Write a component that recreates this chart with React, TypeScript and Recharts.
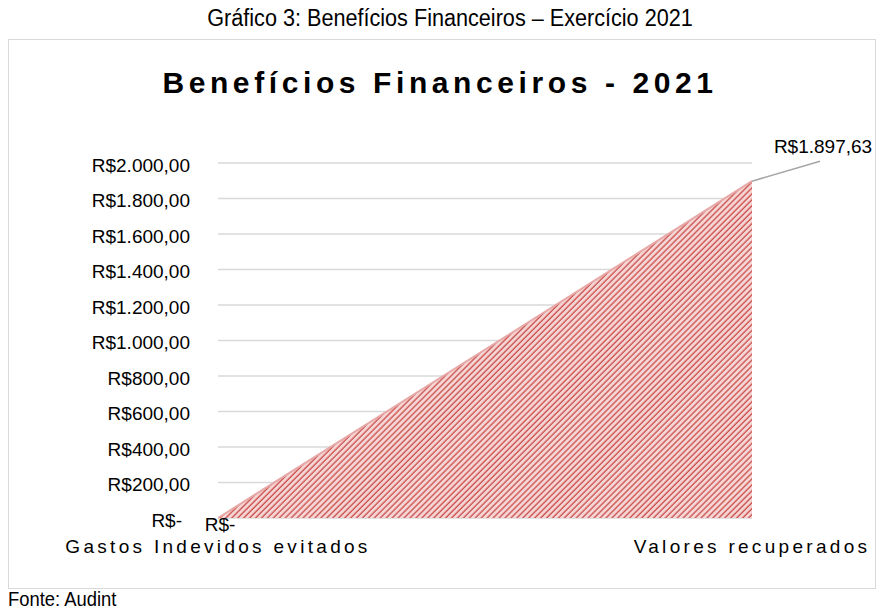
import React from "react";
import { AreaChart, Area, XAxis, YAxis, CartesianGrid } from "recharts";

const CATEGORIES = ["Gastos Indevidos evitados", "Valores recuperados"];
const VALUES = [0, 1897.63];
const Y_TICKS = [0, 200, 400, 600, 800, 1000, 1200, 1400, 1600, 1800, 2000];

const data = CATEGORIES.map((name, i) => ({ name, value: VALUES[i] }));

const FONT = '"Liberation Sans", Arial, sans-serif';

const fmtBRL = (v: number) => {
  if (v === 0) return "R$-";
  const [int, dec] = v.toFixed(2).split(".");
  return "R$" + int.replace(/\B(?=(\d{3})+(?!\d))/g, ".") + "," + dec;
};

const YTick = (props: any) => {
  const { x, y, payload } = props;
  const zero = payload.value === 0;
  return (
    <text x={zero ? x - 8 : x} y={y + 2} textAnchor="end" dominantBaseline="central"
      fontFamily={FONT} fontSize={19} fill="#000">
      {fmtBRL(payload.value)}
    </text>
  );
};

const XTick = (props: any) => {
  const { x, y, payload } = props;
  return (
    <text x={x} y={y} dy="0.71em" textAnchor="middle" fontFamily={FONT}
      fontSize={19} letterSpacing={3.3} fill="#000">
      {payload.value}
    </text>
  );
};

const renderLabel = (props: any) => {
  const { x, y, index, value } = props;
  if (index === 0) {
    return (
      <text key="l0" x={x + 2} y={y + 6} textAnchor="middle" dominantBaseline="central"
        fontFamily={FONT} fontSize={19} fill="#000">
        {fmtBRL(value)}
      </text>
    );
  }
  return (
    <g key="l1">
      <line x1={x} y1={y} x2={x + 68} y2={y - 20} stroke="#a6a6a6" strokeWidth={1.5} />
      <text x={x + 71} y={y - 35} textAnchor="middle" dominantBaseline="central"
        fontFamily={FONT} fontSize={19} fill="#000">
        {fmtBRL(value)}
      </text>
    </g>
  );
};

export default function App() {
  return (
    <div style={{ position: "absolute", left: 0, top: 0, width: 877, height: 616, background: "#fff" }}>
      {/* caption above the frame, condensed like the source */}
      <div style={{ position: "absolute", left: 0, width: 900, top: 3, textAlign: "center",
        fontFamily: FONT, fontSize: 23, color: "#000", lineHeight: "30px",
        transform: "scaleX(0.94)", transformOrigin: "450px 0" }}>
        Gráfico 3: Benefícios Financeiros – Exercício 2021
      </div>
      <div style={{ position: "absolute", left: 8, top: 39, width: 868, height: 550,
        border: "1.5px solid #d9d9d9", boxSizing: "border-box" }} />
      <div style={{ position: "absolute", left: 0, width: 880, top: 64, textAlign: "center",
        fontFamily: FONT, fontSize: 30, fontWeight: "bold", letterSpacing: 4.6, color: "#000",
        lineHeight: "38px" }}>
        Benefícios Financeiros - 2021
      </div>
      <div style={{ position: "absolute", left: 8, top: 585, fontFamily: FONT, fontSize: 20,
        color: "#000", lineHeight: "28px", transform: "scaleX(0.92)", transformOrigin: "0 0" }}>
        Fonte: Audint
      </div>
      <div style={{ position: "absolute", left: 0, top: 0 }}>
        <AreaChart width={877} height={616} data={data}
          margin={{ top: 163, right: 125, left: 0, bottom: 68 }}>
          <defs>
            <pattern id="stripes" patternUnits="userSpaceOnUse" width={4.2} height={4.2}
              patternTransform="rotate(45)">
              <rect width={4.2} height={4.2} fill="#f5d6d5" />
              <line x1={1} y1={0} x2={1} y2={4.2} stroke="#cc5452" strokeWidth={1.4} />
            </pattern>
          </defs>
          <CartesianGrid vertical={false} stroke="#d9d9d9" strokeWidth={1.5} />
          <XAxis dataKey="name" axisLine={false} tickLine={false} tickSize={0} tickMargin={22}
            height={30} tick={<XTick />} interval={0} />
          <YAxis domain={[0, 2000]} ticks={Y_TICKS} axisLine={false} tickLine={false}
            tickSize={0} tickMargin={28} width={218} tick={<YTick />} interval={0} />
          <Area type="linear" dataKey="value" fill="url(#stripes)" fillOpacity={1}
            stroke="#e6a9a7" strokeWidth={2} isAnimationActive={false} label={renderLabel} />
        </AreaChart>
      </div>
    </div>
  );
}
